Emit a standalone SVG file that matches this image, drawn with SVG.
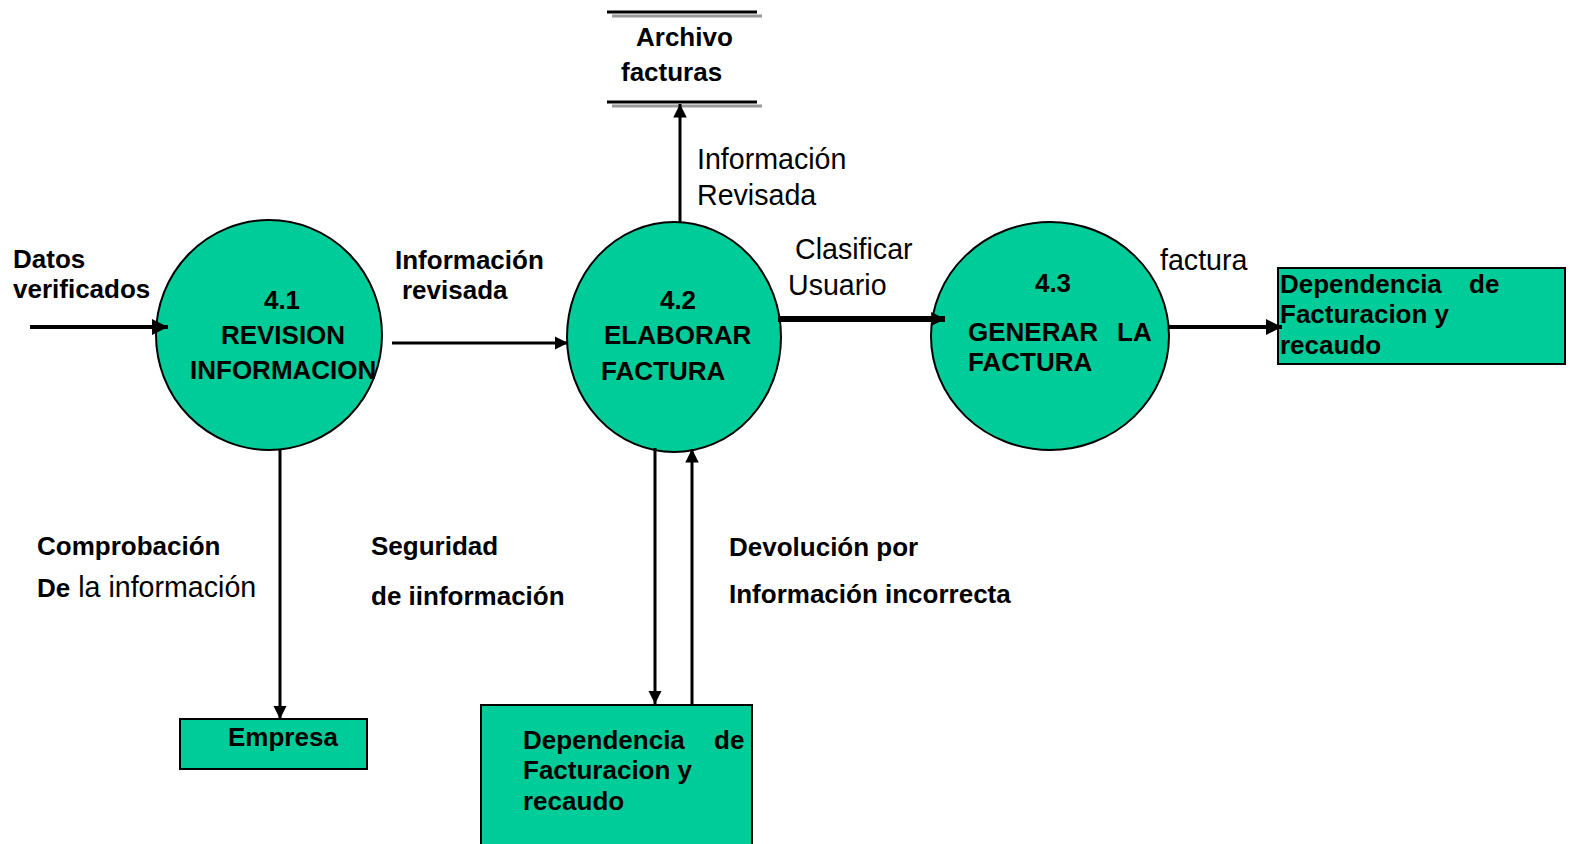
<svg xmlns="http://www.w3.org/2000/svg" width="1577" height="844" viewBox="0 0 1577 844">
<style>
.b{font-family:"Liberation Sans",Arial,sans-serif;font-weight:bold;font-size:26px;fill:#000}
.r{font-family:"Liberation Sans",Arial,sans-serif;font-size:28.6px;fill:#000}
.n{fill:#00CC99;stroke:#000;stroke-width:2}
.c{stroke:#000;fill:none}
</style>
<defs>
<marker id="ah" viewBox="0 0 10 10" refX="10" refY="5" markerWidth="4" markerHeight="4" orient="auto" markerUnits="strokeWidth"><path d="M0,0 L10,5 L0,10 z" fill="#000"/></marker>
<marker id="ah2" viewBox="0 0 10 10" refX="10" refY="5" markerWidth="4.5" markerHeight="5" orient="auto" markerUnits="strokeWidth"><path d="M0,0 L10,5 L0,10 z" fill="#000"/></marker>
<marker id="ah3" viewBox="0 0 10 10" refX="10" refY="5" markerWidth="2.3" markerHeight="3" orient="auto" markerUnits="strokeWidth"><path d="M0,0 L10,5 L0,10 z" fill="#000"/></marker>
</defs>
<rect width="1577" height="844" fill="#fff"/>

<g id="archivo">
<line x1="612" y1="16" x2="762" y2="16" stroke="#999" stroke-width="3"/>
<line x1="607" y1="12" x2="757" y2="12" stroke="#000" stroke-width="3"/>
<line x1="612" y1="106" x2="762" y2="106" stroke="#999" stroke-width="3"/>
<line x1="607" y1="102" x2="757" y2="102" stroke="#000" stroke-width="3"/>
<text class="b" x="636" y="46">Archivo</text>
<text class="b" x="621" y="81">facturas</text>
</g>

<g id="p41">
<ellipse class="n" cx="269" cy="335" rx="113" ry="115"/>
<text class="b" x="282" y="309" text-anchor="middle">4.1</text>
<text class="b" x="283" y="344" text-anchor="middle">REVISION</text>
<text class="b" x="190" y="379">INFORMACION</text>
</g>

<g id="p42">
<ellipse class="n" cx="674" cy="337" rx="107" ry="115"/>
<text class="b" x="678" y="309" text-anchor="middle">4.2</text>
<text class="b" x="604" y="344">ELABORAR</text>
<text class="b" x="601" y="380">FACTURA</text>
</g>

<g id="p43">
<ellipse class="n" cx="1050" cy="336" rx="119" ry="114"/>
<text class="b" x="1053" y="292" text-anchor="middle">4.3</text>
<text class="b" x="968" y="341">GENERAR</text>
<text class="b" x="1117" y="341">LA</text>
<text class="b" x="968" y="371">FACTURA</text>
</g>

<g id="dep1">
<rect class="n" x="1278" y="268" width="287" height="96"/>
<text class="b" x="1280" y="293">Dependencia</text>
<text class="b" x="1469" y="293">de</text>
<text class="b" x="1280" y="323">Facturacion y</text>
<text class="b" x="1280" y="354">recaudo</text>
</g>

<g id="empresa">
<rect class="n" x="180" y="719" width="187" height="50"/>
<text class="b" x="228" y="746">Empresa</text>
</g>

<g id="dep2">
<rect class="n" x="481" y="705" width="271" height="150"/>
<text class="b" x="523" y="749">Dependencia</text>
<text class="b" x="714" y="749">de</text>
<text class="b" x="523" y="779">Facturacion y</text>
<text class="b" x="523" y="810">recaudo</text>
</g>

<g id="connectors">
<line class="c" x1="30" y1="327" x2="168" y2="327" stroke-width="4" marker-end="url(#ah)"/>
<line class="c" x1="392" y1="343" x2="568" y2="343" stroke-width="3" marker-end="url(#ah2)"/>
<line class="c" x1="680" y1="222" x2="680" y2="104" stroke-width="3" marker-end="url(#ah2)"/>
<line class="c" x1="778" y1="319" x2="945" y2="319" stroke-width="6" marker-end="url(#ah3)"/>
<line class="c" x1="1168" y1="327" x2="1282" y2="327" stroke-width="4" marker-end="url(#ah)"/>
<line class="c" x1="280" y1="450" x2="280" y2="719" stroke-width="3" marker-end="url(#ah2)"/>
<line class="c" x1="655" y1="448" x2="655" y2="704" stroke-width="3" marker-end="url(#ah2)"/>
<line class="c" x1="692" y1="705" x2="692" y2="449" stroke-width="3" marker-end="url(#ah2)"/>
</g>

<g id="labels">
<text class="b" x="13" y="268">Datos</text>
<text class="b" x="13" y="298">verificados</text>
<text class="b" x="395" y="269">Información</text>
<text class="b" x="402" y="299">revisada</text>
<text class="r" x="697" y="169">Información</text>
<text class="r" x="697" y="205">Revisada</text>
<text class="r" x="795" y="259">Clasificar</text>
<text class="r" x="788" y="295">Usuario</text>
<text class="r" x="1160" y="270">factura</text>
<text class="b" x="37" y="555">Comprobación</text>
<text x="37" y="597"><tspan class="b">De</tspan><tspan class="r"> la información</tspan></text>
<text class="b" x="371" y="555">Seguridad</text>
<text class="b" x="371" y="605">de iinformación</text>
<text class="b" x="729" y="556">Devolución por</text>
<text class="b" x="729" y="603">Información incorrecta</text>
</g>
</svg>
